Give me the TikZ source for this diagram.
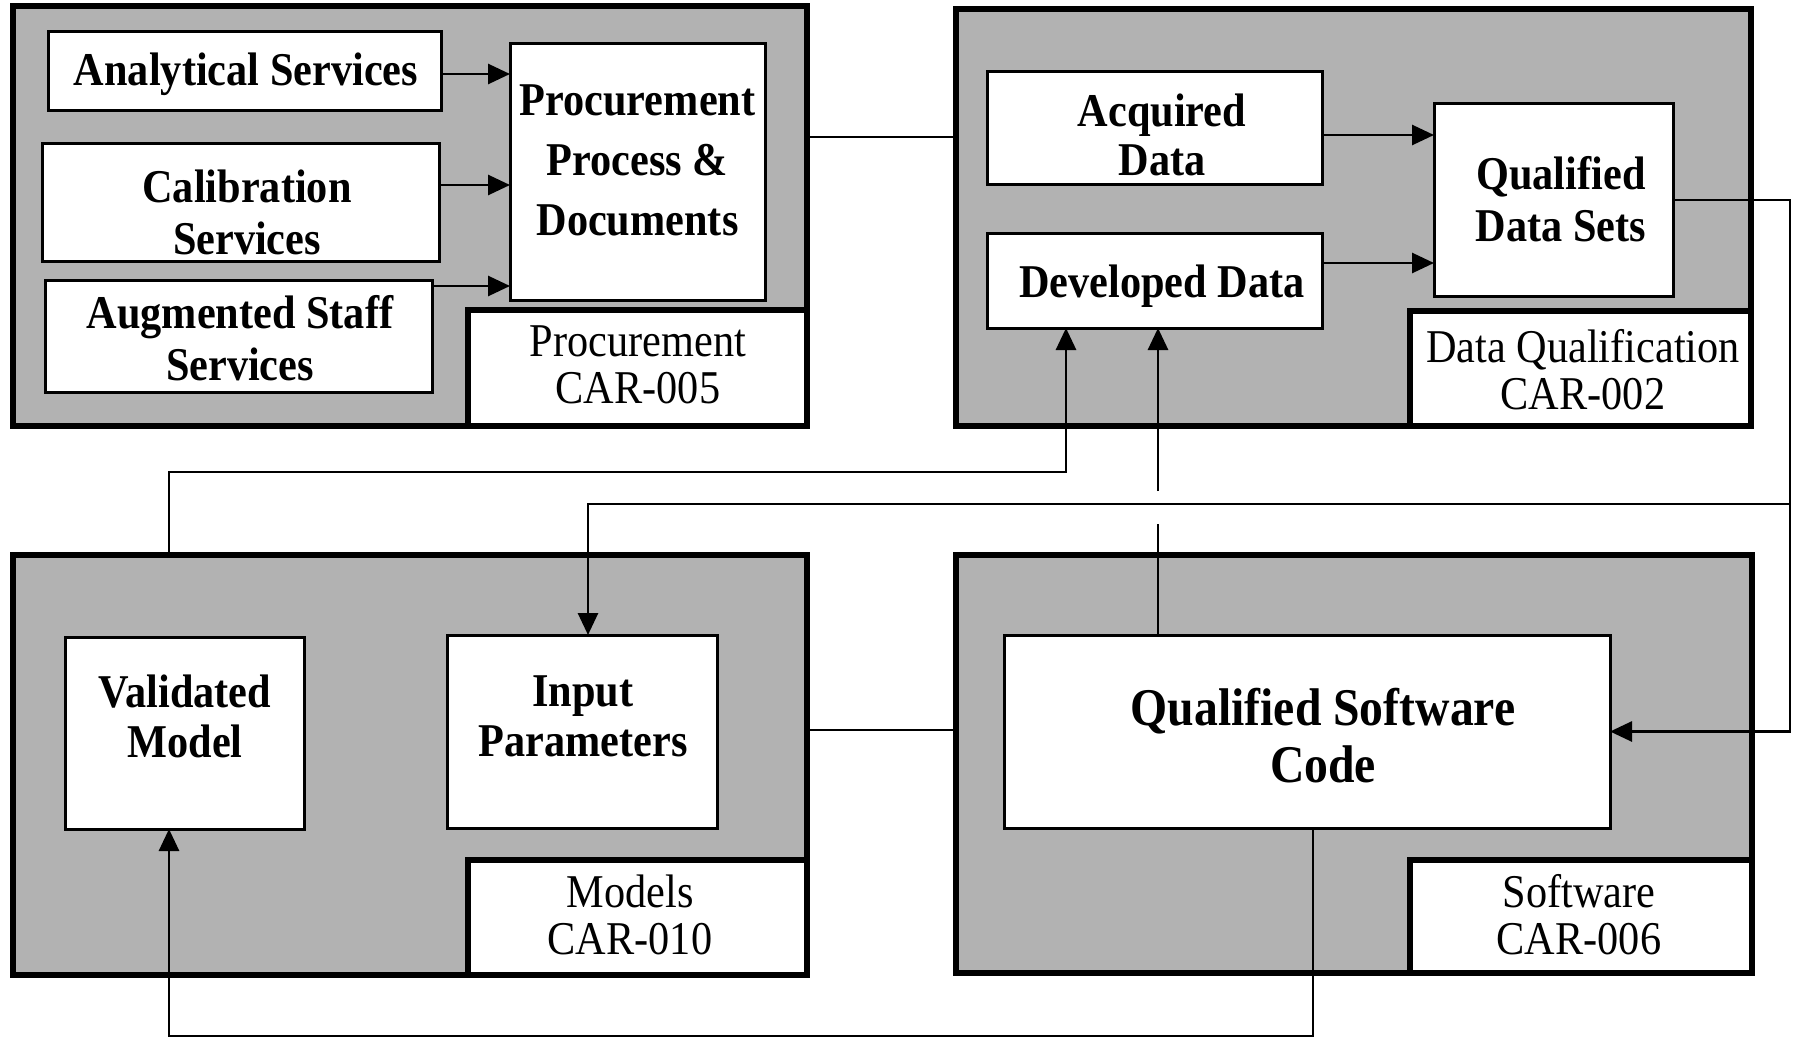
\documentclass[tikz,border=0pt]{standalone}
\usepackage{fontspec}
\setmainfont{Liberation Serif}[FakeStretch=0.9]
\usetikzlibrary{arrows.meta}
\tikzset{
  outerbox/.style={draw, line width=6pt, fill=black!30, inner sep=0pt, outer sep=0pt},
  ibox/.style={draw, line width=3pt, fill=white, inner sep=0pt, outer sep=0pt},
  labbox/.style={draw, line width=6pt, fill=white, inner sep=0pt, outer sep=0pt},
  btxt/.style={font=\fontsize{47}{52}\selectfont\bfseries, align=center, inner sep=0pt},
  rtxt/.style={font=\fontsize{47}{47}\selectfont, align=center, inner sep=0pt},
  conn/.style={line width=2.8pt},
  arr/.style={line width=2.8pt, -{Triangle[length=22pt,width=20pt]}},
}
\begin{document}
\begin{tikzpicture}[x=1pt,y=-1pt]
\useasboundingbox (0,0) rectangle (1793,1038);
% outer boxes
\node[outerbox, minimum width=794pt, minimum height=420pt] (A) at (410,216) {};
\node[outerbox, minimum width=795pt, minimum height=417pt] (B) at (1353.5,217.5) {};
\node[outerbox, minimum width=794pt, minimum height=420pt] (C) at (410,765) {};
\node[outerbox, minimum width=796pt, minimum height=418pt] (D) at (1354,764) {};
% label boxes
\node[labbox, minimum width=339pt, minimum height=116pt] (labA) at (637.5,368) {};
\node[labbox, minimum width=341pt, minimum height=115pt] (labB) at (1580.5,368.5) {};
\node[labbox, minimum width=339pt, minimum height=115pt] (labC) at (637.5,917.5) {};
\node[labbox, minimum width=342pt, minimum height=113pt] (labD) at (1581,916.5) {};
% inner boxes
\node[ibox, minimum width=393pt, minimum height=79pt] (anal) at (244.5,71.5) {};
\node[ibox, minimum width=397pt, minimum height=117pt] (calib) at (240.5,202.5) {};
\node[ibox, minimum width=387pt, minimum height=112pt] (augm) at (238.5,336) {};
\node[ibox, minimum width=255pt, minimum height=256pt] (pd) at (637.5,172) {};
\node[ibox, minimum width=335pt, minimum height=112pt] (acq) at (1154.5,128) {};
\node[ibox, minimum width=335pt, minimum height=95pt] (dev) at (1154.5,280.5) {};
\node[ibox, minimum width=239pt, minimum height=192pt] (qds) at (1553.5,200) {};
\node[ibox, minimum width=239pt, minimum height=192pt] (val) at (184.5,733) {};
\node[ibox, minimum width=270pt, minimum height=193pt] (inp) at (582,731.5) {};
\node[ibox, minimum width=606pt, minimum height=193pt] (qsc) at (1307,731.5) {};
% texts
\node[btxt] (tanal) at (246,74) {Analytical Services};
\node[btxt] (tcalib) at (247,212) {Calibration\\Services};
\node[btxt] (taugm) at (240,338) {Augmented Staff\\Services};
\node[btxt, font=\fontsize{47}{60}\selectfont\bfseries] (tpd) at (637.5,160) {Procurement\\Process \&\\Documents};
\node[rtxt] (tlabA) at (638,365) {Procurement\\CAR-005};
\node[btxt, font=\fontsize{47}{49}\selectfont\bfseries] (tacq) at (1162,135) {Acquired\\Data};
\node[btxt] (tdev) at (1162,286) {Developed Data};
\node[btxt] (tqds) at (1561,199) {Qualified\\Data Sets};
\node[rtxt] (tlabB) at (1583,370) {Data Qualification\\CAR-002};
\node[btxt, font=\fontsize{47}{50}\selectfont\bfseries] (tval) at (185,716) {Validated\\Model};
\node[btxt, font=\fontsize{47}{50}\selectfont\bfseries] (tinp) at (583,716) {Input\\Parameters};
\node[rtxt] (tlabC) at (630,915) {Models\\CAR-010};
\node[btxt, font=\fontsize{53}{57}\selectfont\bfseries] (tqsc) at (1323,736) {Qualified Software\\Code};
\node[rtxt] (tlabD) at (1579,915) {Software\\CAR-006};
% helper coordinates
\coordinate (ya1) at (0,74);
\coordinate (ya2) at (0,185);
\coordinate (ya3) at (0,286);
\coordinate (yb1) at (0,135);
\coordinate (yb2) at (0,263);
\coordinate (yab) at (0,137);
\coordinate (ycd) at (0,730);
\coordinate (rx) at (1790,0);
\coordinate (yb) at (0,504);
\coordinate (xin) at (588,0);
\coordinate (m1) at (169,472);
\coordinate (m2) at (1066,472);
\coordinate (g1) at (1158,524);
\coordinate (g2) at (1158,491);
\coordinate (b1) at (1313,1036);
\coordinate (b2) at (169,1036);
% arrows inside boxes
\draw[arr] (anal.east |- ya1) -- (pd.west |- ya1);
\draw[arr] (calib.east |- ya2) -- (pd.west |- ya2);
\draw[arr] (augm.east |- ya3) -- (pd.west |- ya3);
\draw[arr] (acq.east |- yb1) -- (qds.west |- yb1);
\draw[arr] (dev.east |- yb2) -- (qds.west |- yb2);
% connectors between groups
\draw[conn] (A.east |- yab) -- (B.west |- yab);
\draw[conn] (C.east |- ycd) -- (D.west |- ycd);
\draw[arr] (qds.east) -- (qds.east -| rx) |- (qsc.east);
\draw[arr] (rx |- yb) -- (xin |- yb) -- (inp.north -| xin);
\draw[arr] (C.north -| m1) -- (m1) -- (m2) -- (dev.south -| m2);
\draw[conn] (qsc.north -| g1) -- (g1);
\draw[arr] (g2) -- (dev.south -| g2);
\draw[arr] (qsc.south -| b1) -- (b1) -- (b2) -- (val.south -| b2);
\end{tikzpicture}
\end{document}
